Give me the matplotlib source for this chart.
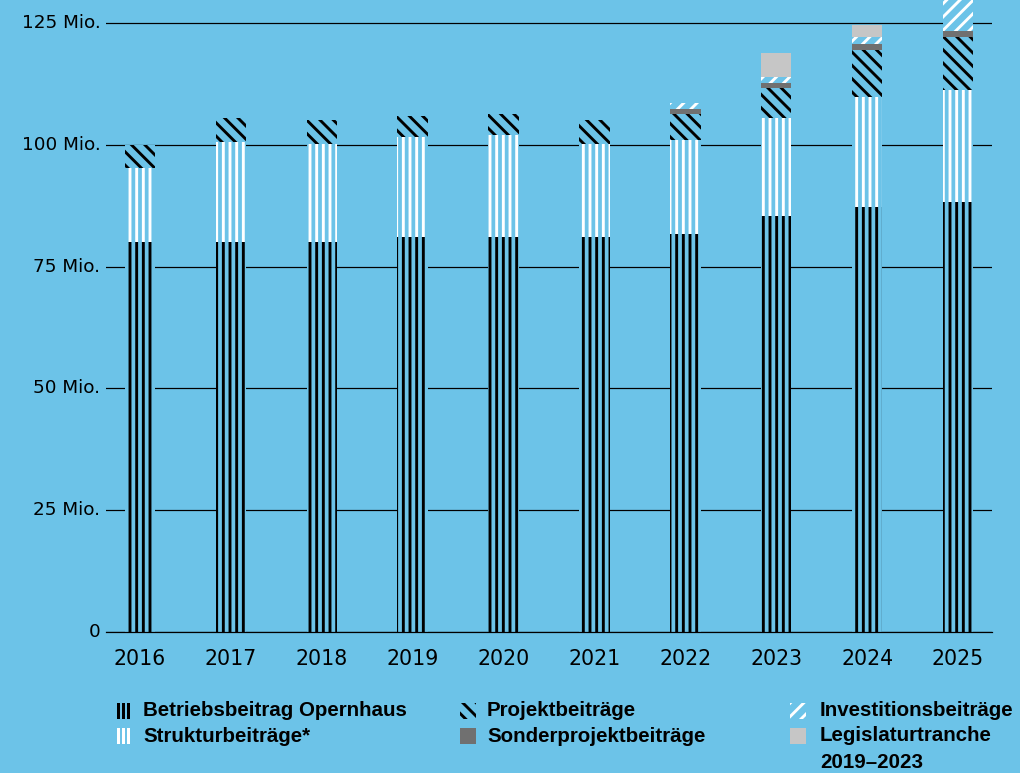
import matplotlib
matplotlib.use("Agg")
import matplotlib.pyplot as plt
from matplotlib.patches import Rectangle
import numpy as np

# ---- data (Mio. CHF) ----
years = ["2016", "2017", "2018", "2019", "2020", "2021", "2022", "2023", "2024", "2025"]
betrieb = [80.1, 80.1, 80.1, 81.0, 81.0, 81.0, 81.7, 85.4, 87.2, 88.3]
struktur = [15.1, 20.5, 20.1, 20.6, 21.0, 19.2, 19.3, 20.1, 22.5, 22.9]
projekt = [4.7, 4.9, 4.9, 4.3, 4.3, 4.9, 5.3, 6.2, 9.8, 10.9]
sonder = [0, 0, 0, 0, 0, 0, 1.0, 1.0, 1.2, 1.3]
invest = [0, 0, 0, 0, 0, 0, 1.3, 1.1, 1.4, 7.0]
legislatur = [0, 0, 0, 0, 0, 0, 0, 5.0, 2.5, 0]
yticks = [0, 25, 50, 75, 100, 125]
ytick_labels = ["0", "25 Mio.", "50 Mio.", "75 Mio.", "100 Mio.", "125 Mio."]
legend_labels = ["Betriebsbeitrag Opernhaus", "Strukturbeiträge*",
                 "Projektbeiträge", "Sonderprojektbeiträge",
                 "Investitionsbeiträge", "Legislaturtranche\n2019–2023"]

BG = "#6cc3e8"
DARKGREY = "#707070"
LIGHTGREY = "#c6c6c6"

plt.rcParams["hatch.linewidth"] = 2.6

DPI = 80
fig = plt.figure(figsize=(1020 / DPI, 773 / DPI), dpi=DPI, facecolor=BG)
ax = fig.add_axes([106 / 1020, 141 / 773, (992 - 106) / 1020, 632 / 773])
ax.set_facecolor(BG)

x = np.arange(len(years))
W = 0.335

# styles: (face, hatch color, hatch)
styles = [
    (BG, "black", "||"),
    (BG, "white", "||"),
    (BG, "black", "\\\\"),
    (DARKGREY, DARKGREY, None),
    (BG, "white", "//"),
    (LIGHTGREY, LIGHTGREY, None),
]
series = [betrieb, struktur, projekt, sonder, invest, legislatur]

bottom = np.zeros(len(years))
for vals, (fc, hc, hatch) in zip(series, styles):
    vals = np.array(vals, dtype=float)
    ax.bar(x, vals, W, bottom=bottom, color=fc, edgecolor=hc,
           linewidth=0, hatch=hatch, zorder=3)
    bottom += vals

tickfont = ["DejaVu Sans"]
ax.set_xlim(-0.374, 9.374)
ax.set_ylim(0, 129.7)
ax.set_yticks(yticks)
ax.set_yticklabels(ytick_labels, fontsize=16.5, family=tickfont)
ax.set_xticks(x)
ax.set_xticklabels(years, fontsize=18.5, family=tickfont)
ax.tick_params(axis="both", length=0, colors="black")
ax.tick_params(axis="y", pad=5)
ax.tick_params(axis="x", pad=15)
for lab in ax.get_yticklabels():
    lab.set_verticalalignment("center")
for s in ax.spines.values():
    s.set_visible(False)
ax.yaxis.grid(True, color="black", linewidth=1.1, zorder=0)
ax.set_axisbelow(True)
ax.axhline(0, color="black", linewidth=1.1, clip_on=False, zorder=4)

# ---- legend (manual) ----
FW, FH = 1020, 773
lfont = dict(family=["Liberation Sans", "DejaVu Sans"], fontweight="bold",
             fontsize=18.5)


def fig_rect(px, py, w, h, **kw):
    r = Rectangle((px / FW, 1 - (py + h) / FH), w / FW, h / FH,
                  transform=fig.transFigure, linewidth=0, **kw)
    fig.add_artist(r)


entries = [
    (117, 143, 711, 0),
    (117, 143, 736, 1),
    (460, 487, 711, 2),
    (460, 487, 736, 3),
    (790, 820, 711, 4),
    (790, 820, 736, 5),
]
for mx, tx, cy, i in entries:
    fc, hc, hatch = styles[i]
    h = 16
    top = cy - h / 2
    if i in (0, 1):
        # three vertical strokes icon
        for k in range(3):
            fig_rect(mx + k * 5, top, 2.8, h, facecolor=hc)
    else:
        fig_rect(mx, top, 16, h, facecolor=fc, edgecolor=hc, hatch=hatch)
    lab = legend_labels[i]
    if "\n" in lab:
        fig.text(tx / FW, 1 - (cy + 13) / FH, lab, ha="left", va="center",
                 linespacing=1.49, **lfont)
    else:
        fig.text(tx / FW, 1 - cy / FH, lab, ha="left", va="center", **lfont)

fig.savefig("out.png", dpi=DPI, facecolor=BG)
